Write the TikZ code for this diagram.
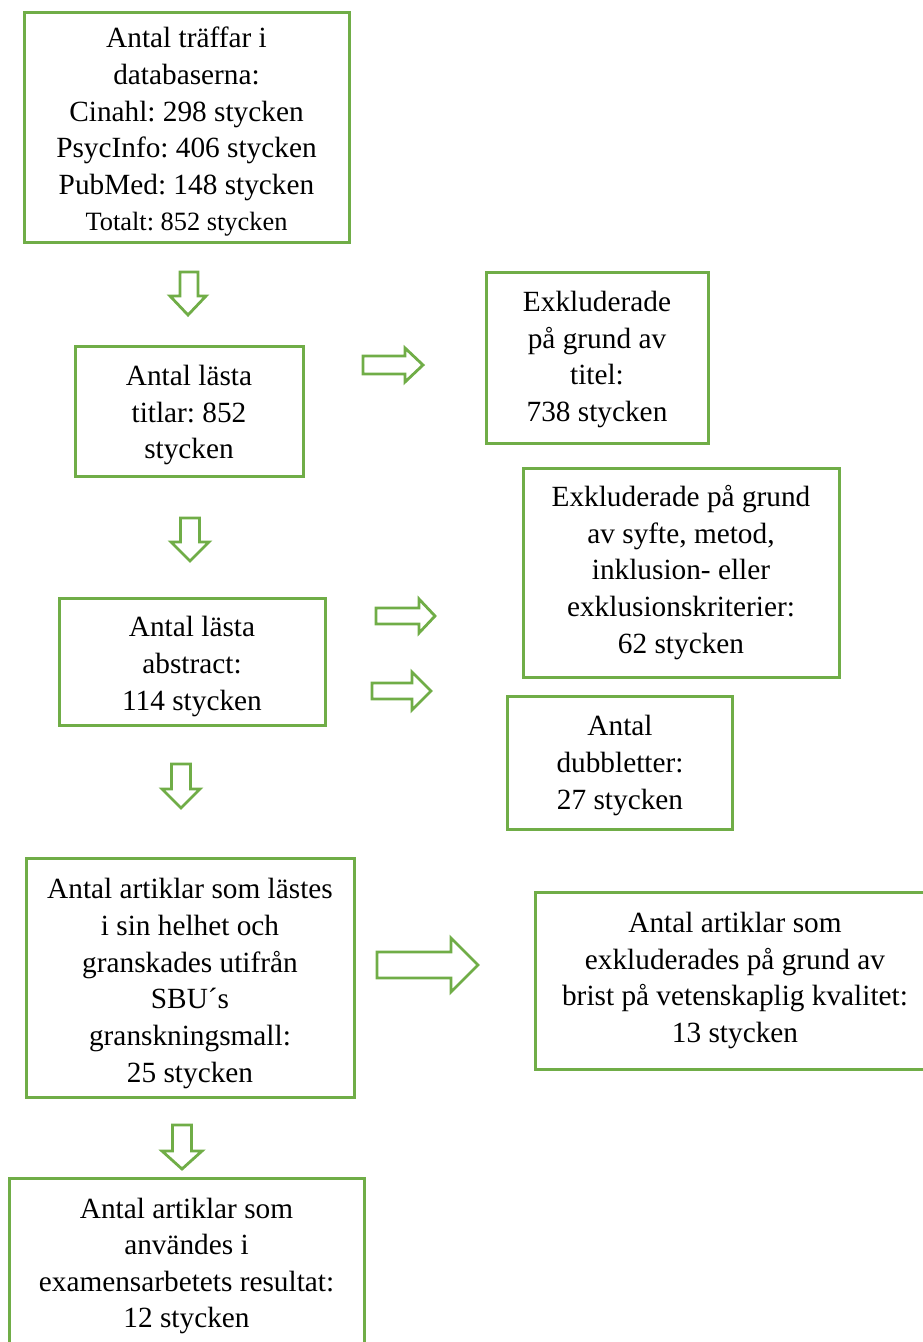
\documentclass[tikz,border=0pt]{standalone}
\usepackage{fontspec}
\setmainfont{Liberation Serif}
\frenchspacing
\definecolor{flowgreen}{HTML}{70AD47}
\tikzset{
  box/.style={draw=flowgreen, line width=3pt, fill=white, inner sep=0pt},
  boxtext/.style={inner sep=0pt, align=center, font=\fontsize{29.3}{36.6}\selectfont},
  blockarrow/.style={draw=flowgreen, line width=2.8pt, fill=white, line join=miter}
}
\begin{document}
\begin{tikzpicture}[x=1pt,y=-1pt]
\useasboundingbox (0,0) rectangle (923,1342);
\clip (0,0) rectangle (923,1342);
% boxes
\node[box, minimum width=325, minimum height=230] (a) at (186.5,127) {};
\node[box, minimum width=228, minimum height=130] (b) at (189,411) {};
\node[box, minimum width=222, minimum height=171] (c) at (597,357.5) {};
\node[box, minimum width=316, minimum height=209] (d) at (681,572.5) {};
\node[box, minimum width=266, minimum height=127] (e) at (192,661.5) {};
\node[box, minimum width=225, minimum height=133] (f) at (620,762.5) {};
\node[box, minimum width=328, minimum height=239] (g) at (190,977.5) {};
\node[box, minimum width=400, minimum height=177] (h) at (735,980.5) {};
\node[box, minimum width=355, minimum height=168] (i) at (186.5,1262) {};
% texts
\node[boxtext, yshift=-5pt] (at) at (a.center)
  {Antal träffar i\\databaserna:\\Cinahl: 298 stycken\\PsycInfo: 406 stycken\\PubMed: 148 stycken\\{\fontsize{26.4}{34}\selectfont Totalt: 852 stycken}};
\node[boxtext, yshift=-4pt] (bt) at (b.center) {Antal lästa\\titlar: 852\\stycken};
\node[boxtext, yshift=-2pt] (ct) at (c.center) {Exkluderade\\på grund av\\titel:\\738 stycken};
\node[boxtext] (dt) at (d.center) {Exkluderade på grund\\av syfte, metod,\\inklusion- eller\\exklusionskriterier:\\62 stycken};
\node[boxtext, yshift=-5pt] (et) at (e.center) {Antal lästa\\abstract:\\114 stycken};
\node[boxtext, yshift=-3pt] (ft) at (f.center) {Antal\\dubbletter:\\27 stycken};
\node[boxtext, yshift=-6pt, font=\fontsize{29.3}{36.9}\selectfont] (gt) at (g.center)
  {Antal artiklar som lästes\\i sin helhet och\\granskades utifrån\\SBU´s\\granskningsmall:\\25 stycken};
\node[boxtext] (ht) at (h.center)
  {Antal artiklar som\\exkluderades på grund av\\brist på vetenskaplig kvalitet:\\13 stycken};
\node[boxtext, yshift=-4pt] (it) at (i.center)
  {Antal artiklar som\\användes i\\examensarbetets resultat:\\12 stycken};
% down block arrows
\draw[blockarrow] (180,272) -- (198,272) -- (198,296) -- (206,296) -- (188,315) -- (170,296) -- (180,296) -- cycle;
\draw[blockarrow] (180.5,518) -- (199.5,518) -- (199.5,542) -- (209,542) -- (190,561) -- (171,542) -- (180.5,542) -- cycle;
\draw[blockarrow] (171.5,764) -- (190.5,764) -- (190.5,789) -- (200,789) -- (181,808) -- (162,789) -- (171.5,789) -- cycle;
\draw[blockarrow] (172.5,1125) -- (191.5,1125) -- (191.5,1151) -- (202,1151) -- (182,1169) -- (162,1151) -- (172.5,1151) -- cycle;
% right block arrows
\draw[blockarrow] (363,356) -- (405,356) -- (405,348) -- (423,365) -- (405,382) -- (405,374) -- (363,374) -- cycle;
\draw[blockarrow] (376,608) -- (419,608) -- (419,599) -- (435,616) -- (419,633) -- (419,624) -- (376,624) -- cycle;
\draw[blockarrow] (372,683) -- (412,683) -- (412,672) -- (431,691) -- (412,710) -- (412,699) -- (372,699) -- cycle;
\draw[blockarrow] (377,952) -- (451,952) -- (451,938) -- (478,965) -- (451,992) -- (451,978) -- (377,978) -- cycle;
\end{tikzpicture}
\end{document}
